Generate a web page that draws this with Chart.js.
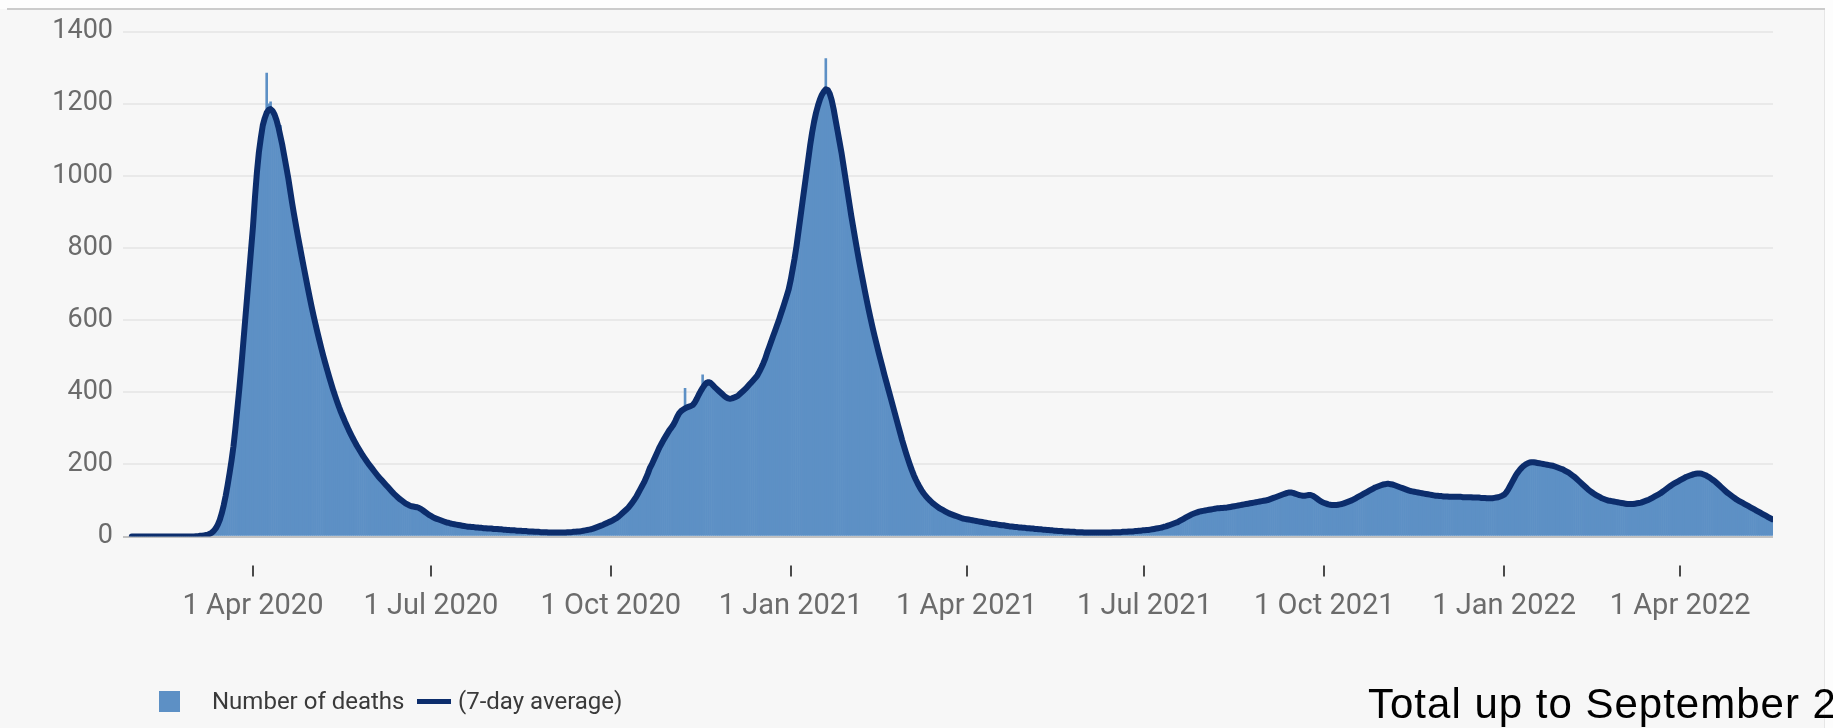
<!DOCTYPE html>
<html>
<head>
<meta charset="utf-8">
<script src="https://cdn.jsdelivr.net/npm/chart.js@4.4.1/dist/chart.umd.min.js"></script>
<style>
  html, body { margin: 0; padding: 0; width: 1833px; height: 728px; overflow: hidden; background: #fdfdfd; }
  #panel { position: absolute; left: 0; top: 9px; width: 1824px; height: 719px; background: #f7f7f7; border-right: 1px solid #e6e6e6; }
  #topline { position: absolute; left: 7px; top: 8px; width: 1818px; height: 2px; background: #cbcbcb; }
  #chart { position: absolute; left: 0; top: 0; }
  .lg { position: absolute; font-family: Roboto, "Noto Sans", sans-serif; font-size: 24px; line-height: 24px; color: #3a3a3a; white-space: nowrap; }
  #sq { position: absolute; left: 159px; top: 691px; width: 21px; height: 21px; background: #5d90c5; }
  #ln { position: absolute; left: 417px; top: 699px; width: 34px; height: 5px; background: #0c2d6c; }
  #total { position: absolute; left: 1368px; top: 682.5px; font-family: "Liberation Sans", Arial, sans-serif; font-size: 42px; line-height: 42px; letter-spacing: 1px; color: #000; white-space: nowrap; }
</style>
</head>
<body>
<div id="panel"></div>
<div id="topline"></div>
<canvas id="chart" width="1833" height="728"></canvas>
<div id="sq"></div><div class="lg" style="left:212px;top:689px">Number of deaths</div>
<div id="ln"></div><div class="lg" style="left:458px;top:689px">(7-day average)</div>
<div id="total">Total up to September 2</div>
<script>
// first day of the series (index 0); the axis starts a few days earlier
const firstDay = '2020-01-30';
const axisStart = '2020-01-26';

// daily number of deaths, one row per month
const deaths = [
  0,0,
  0,0,0,0,0,0,0,0,0,0,0,0,0,0,0,0,0,0,0,0,0,0,0,0,0,0,0,0,0,
  0,0,1,1,2,1,3,4,6,8,12,15,24,32,48,62,88,110,145,172,215,248,305,350,415,465,540,595,670,725,800,
  865,945,1005,1075,1100,1150,1155,1285,1200,1205,1175,1160,1150,1145,1140,1080,1050,1020,990,965,920,890,870,825,800,780,740,720,690,660,
  640,610,580,570,545,515,505,475,455,445,420,410,395,370,360,350,335,315,310,290,285,270,265,250,245,230,228,215,212,200,192,
  190,178,176,165,160,152,150,140,138,128,127,117,116,107,105,98,98,90,90,84,85,80,84,80,82,74,73,66,65,58,
  58,52,52,47,48,44,44,40,40,36,37,34,35,32,33,30,31,28,29,26,28,25,27,24,26,23,25,22,24,21,23,
  22,20,22,20,21,19,20,18,19,17,18,16,18,15,17,15,16,14,16,13,15,13,14,12,14,11,13,11,13,10,12,
  11,10,12,10,12,10,12,11,13,11,13,12,14,13,15,14,17,16,19,18,21,21,25,25,29,29,33,34,38,39,
  43,44,50,50,56,58,66,68,76,78,88,92,103,108,121,128,141,148,163,172,192,198,214,222,238,246,260,266,279,284,297,
  300,312,318,334,340,350,350,411,356,362,360,368,370,384,390,405,448,418,430,425,430,418,420,405,410,395,400,385,390,378,
  385,378,390,382,395,390,405,400,415,410,425,425,438,435,452,455,472,475,500,505,530,535,560,565,590,595,620,630,655,660,690,
  705,745,765,810,840,890,920,970,1000,1050,1080,1125,1145,1180,1190,1220,1215,1240,1325,1230,1235,1200,1190,1150,1130,1090,1070,1020,1000,955,930,
  885,862,820,800,760,740,700,685,648,630,598,582,550,538,505,495,462,452,422,412,382,372,342,332,302,292,262,254,
  228,218,195,187,167,160,144,139,125,122,110,109,98,98,88,89,80,81,74,74,68,68,62,63,58,59,54,55,50,51,47,
  49,46,47,44,45,42,43,40,41,38,39,36,37,34,36,33,34,31,32,30,31,28,29,27,28,25,27,24,26,23,
  25,22,24,21,23,20,22,19,21,18,20,17,19,16,18,15,17,14,16,14,15,13,15,12,14,12,13,11,13,11,12,
  10,12,10,12,10,12,10,12,10,12,10,12,10,12,11,13,11,13,11,14,12,14,13,15,13,16,14,17,15,18,
  16,19,17,20,19,22,21,24,23,26,26,29,29,33,33,37,37,41,42,47,48,53,54,59,60,64,64,68,68,71,70,
  73,72,75,74,77,76,79,77,80,78,81,79,82,81,84,83,86,85,88,87,90,89,92,91,94,93,96,95,98,97,100,
  99,102,102,106,106,110,110,114,114,118,118,125,121,123,120,120,116,116,113,114,112,115,114,116,112,111,105,103,97,96,
  92,92,88,89,86,88,86,89,88,91,91,95,95,99,99,104,105,110,111,116,117,122,123,128,129,134,135,139,139,143,143,
  146,145,147,144,145,141,141,137,137,133,133,129,129,125,126,123,124,121,122,119,120,117,118,115,116,113,114,112,113,111,
  112,110,112,109,111,109,111,109,111,109,110,108,110,108,110,107,109,107,109,106,108,106,107,105,107,105,108,107,110,110,114,
  115,123,129,141,149,161,169,179,184,192,195,201,202,206,205,207,204,205,202,203,200,201,198,199,196,197,193,193,189,189,185,
  184,179,178,172,170,164,161,154,151,144,141,134,131,125,123,117,116,111,110,105,105,101,101,98,99,96,97,94,
  95,92,93,90,91,89,91,89,92,91,94,93,97,97,101,101,106,107,112,113,118,119,125,127,133,135,141,143,148,149,154,
  155,160,161,166,166,170,170,174,173,176,174,175,171,171,166,165,159,157,151,148,141,138,131,128,121,119,113,111,105,103,
  98,97,92,91,86,85,80,79,74,73,68,67,62,61,56,55,50,49
];

// 7-day average as drawn by the line, one row per month
const average = [
  0,0,
  0,0,0,0,0,0,0,0,0,0,0,0,0,0,0,0,0,0,0,0,0,0,0,0,0,0,0,0,0,
  0,0,1,1,2,2,3,4,5,8,11,16,23,33,46,64,86,112,142,175,210,250,300,355,410,470,535,600,665,730,795,
  860,940,1010,1065,1105,1140,1160,1175,1183,1185,1180,1170,1155,1135,1110,1085,1055,1025,995,960,925,893,862,832,803,774,746,718,690,663,
  637,612,588,565,543,521,500,480,461,442,424,406,390,374,359,345,332,319,307,295,284,273,263,253,244,235,226,218,210,202,195,
  188,181,174,167,161,155,149,143,137,131,125,119,114,109,104,100,96,92,89,86,84,83,82,81,79,76,72,68,64,60,
  57,54,51,49,47,45,43,41,39,38,36,35,34,33,32,31,30,29,28,27,27,26,26,25,25,24,24,23,23,22,22,
  22,21,21,21,20,20,19,19,18,18,17,17,17,16,16,16,15,15,15,14,14,14,13,13,13,12,12,12,12,11,11,
  11,11,11,11,11,11,11,11,12,12,12,13,13,14,14,15,16,17,18,19,20,22,24,26,28,30,32,35,37,40,
  42,45,48,51,55,60,65,70,75,80,87,94,102,110,120,130,140,150,162,175,190,200,212,224,236,248,258,268,277,286,295,
  302,310,320,332,342,348,352,355,358,360,362,365,372,382,393,403,412,420,426,428,426,421,415,410,405,400,395,390,386,383,
  382,383,385,387,390,395,400,405,410,416,422,428,434,440,447,457,468,480,493,510,525,540,555,570,585,600,617,633,650,667,685,
  710,740,770,805,845,885,925,965,1005,1045,1085,1120,1150,1175,1195,1212,1225,1234,1240,1238,1228,1210,1185,1155,1125,1095,1065,1030,995,960,925,
  890,858,826,795,765,736,708,680,653,627,602,578,555,533,511,490,469,448,428,408,388,368,348,328,308,288,268,250,
  232,215,199,184,170,158,147,137,128,120,113,107,101,96,91,87,83,79,76,73,70,67,64,62,60,58,56,54,52,50,49,
  48,47,46,45,44,43,42,41,40,39,38,37,36,35,35,34,33,32,31,31,30,29,28,28,27,26,26,25,25,24,
  24,23,23,22,22,21,21,20,20,19,19,18,18,17,17,16,16,15,15,15,14,14,14,13,13,13,12,12,12,12,11,
  11,11,11,11,11,11,11,11,11,11,11,11,11,11,12,12,12,12,12,13,13,13,14,14,14,15,15,16,16,17,
  17,18,18,19,20,21,22,23,24,25,27,28,30,32,34,36,38,40,43,46,49,52,55,58,61,63,65,67,69,70,71,
  72,73,74,75,76,77,78,78,79,79,80,80,81,82,83,84,85,86,87,88,89,90,91,92,93,94,95,96,97,98,99,
  100,101,103,105,107,109,111,113,115,117,119,121,122,122,121,119,117,115,114,113,113,114,115,115,113,110,106,102,98,95,
  93,91,89,88,87,87,87,88,89,90,92,94,96,98,100,103,106,109,112,115,118,121,124,127,130,133,136,138,140,142,144,
  145,146,146,145,144,142,140,138,136,134,132,130,128,126,125,124,123,122,121,120,119,118,117,116,115,114,113,113,112,112,
  111,111,111,110,110,110,110,110,110,110,109,109,109,109,109,108,108,108,108,107,107,107,106,106,106,106,107,108,109,111,113,
  116,122,130,140,150,160,170,178,185,191,196,200,203,205,206,206,205,204,203,202,201,200,199,198,197,196,194,192,190,188,186,
  183,180,177,173,169,165,160,155,150,145,140,135,130,126,122,118,115,112,109,106,104,102,100,99,98,97,96,95,
  94,93,92,91,90,90,90,90,91,92,93,94,96,98,100,102,105,108,111,114,117,120,124,128,132,136,140,144,147,150,153,
  156,159,162,165,167,169,171,173,174,175,175,174,172,170,167,164,160,156,152,147,142,137,132,127,122,118,114,110,106,102,
  99,96,93,90,87,84,81,78,75,72,69,66,63,60,57,54,51,48
];

const tickDates = ['2020-04-01','2020-07-01','2020-10-01','2021-01-01','2021-04-01','2021-07-01','2021-10-01','2022-01-01','2022-04-01'];
const tickLabels = ['1 Apr 2020','1 Jul 2020','1 Oct 2020','1 Jan 2021','1 Apr 2021','1 Jul 2021','1 Oct 2021','1 Jan 2022','1 Apr 2022'];
const yTicks = [0, 200, 400, 600, 800, 1000, 1200, 1400];

const dayOf = d => Math.round((Date.parse(d) - Date.parse(firstDay)) / 86400000);
const tickDays = tickDates.map(dayOf);
const toPoints = arr => arr.map((v, i) => ({ x: i, y: v }));

// small marks under the axis, with a gap, like the original
const tickMarks = {
  id: 'tickMarks',
  afterDraw(chart) {
    const xs = chart.scales.x, ctx = chart.ctx;
    ctx.save();
    ctx.strokeStyle = '#4a4a4a';
    ctx.lineWidth = 2;
    xs.ticks.forEach(t => {
      const px = Math.round(xs.getPixelForValue(t.value));
      ctx.beginPath();
      ctx.moveTo(px, xs.top + 29);
      ctx.lineTo(px, xs.top + 40);
      ctx.stroke();
    });
    ctx.restore();
  }
};

const font = 'Roboto, "Noto Sans", sans-serif';

new Chart(document.getElementById('chart'), {
  type: 'bar',
  data: {
    datasets: [
      {
        type: 'line',
        label: '(7-day average)',
        data: toPoints(average),
        borderColor: '#0c2d6c',
        borderWidth: 6,
        pointRadius: 0,
        tension: 0,
        borderJoinStyle: 'round',
        borderCapStyle: 'round',
        order: 0
      },
      {
        type: 'bar',
        label: 'Number of deaths',
        data: toPoints(deaths),
        backgroundColor: '#5d90c5',
        borderWidth: 0,
        barPercentage: 1,
        categoryPercentage: 1,
        order: 1
      }
    ]
  },
  options: {
    responsive: false,
    animation: false,
    layout: { padding: { left: 0, right: 60, top: 31.6, bottom: 0 } },
    plugins: { legend: { display: false }, tooltip: { enabled: false } },
    scales: {
      x: {
        type: 'linear',
        offset: false,
        min: dayOf(axisStart) - 0.5,
        max: deaths.length - 0.5,
        afterBuildTicks: s => { s.ticks = tickDays.map(v => ({ value: v })); },
        afterFit: s => { s.height = 191.5; s.paddingLeft = 0; s.paddingRight = 0; },
        grid: { display: false, drawTicks: false },
        border: { display: false },
        ticks: {
          autoSkip: false,
          maxRotation: 0,
          padding: 53,
          color: '#6b6b6b',
          font: { family: font, size: 29 },
          callback: v => tickLabels[tickDays.indexOf(v)]
        }
      },
      y: {
        min: 0,
        max: 1400,
        afterBuildTicks: s => { s.ticks = yTicks.map(v => ({ value: v })); },
        afterFit: s => { s.width = 123; s.paddingTop = 0; s.paddingBottom = 0; },
        border: { display: false },
        grid: {
          drawTicks: false,
          lineWidth: 2,
          color: c => c.tick.value === 0 ? '#c2c2c2' : '#e9e9e9'
        },
        ticks: {
          padding: 10,
          color: '#6b6b6b',
          font: { family: font, size: 27 },
          callback: v => String(v)
        }
      }
    }
  },
  plugins: [tickMarks]
});
</script>
</body>
</html>
